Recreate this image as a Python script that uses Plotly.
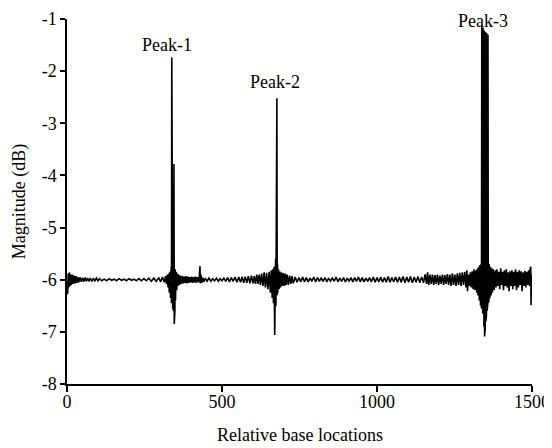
import plotly.graph_objects as go

# Relative base locations (x) and magnitude in dB (y)
base_loc = [
    0, 2, 4, 6, 8, 10, 12, 14, 17, 20, 23, 26, 29, 32, 35, 38, 42, 46, 50, 54, 58, 62, 66, 70, 75, 80, 85, 90, 95, 100,
    105, 112, 120, 128, 136, 144, 152, 160, 168, 176, 184, 192, 200, 208, 216, 224, 232, 240, 248, 256, 264, 272, 280, 288, 296, 302, 308, 314, 318,
    321, 324, 326, 328, 330, 332, 334, 336, 337, 338, 339, 340, 341, 342, 343, 344, 345, 346, 347, 348, 349, 350, 352, 354, 356, 358, 360, 363, 366, 369,
    372, 375, 378, 381, 384, 387, 390, 393, 396, 399, 402, 405, 408, 411, 414, 417, 420, 424, 427, 429, 430, 432, 435, 438, 442,
    446, 452, 458, 464, 470, 476, 482, 488, 494, 500, 506, 512, 518, 524, 530, 536, 542, 548, 554, 560, 565, 570, 575, 580, 585, 590, 595, 600, 604, 608, 612, 616,
    620, 624, 628, 632, 636, 640, 644, 648, 652, 656, 659, 662, 664, 666, 668, 670, 671, 672, 673, 674, 675, 676, 677, 678, 679, 680, 682, 684, 686, 689, 692, 695, 698, 701, 704, 707, 710, 714, 718, 722, 726, 730,
    736, 742, 748, 754, 760, 766, 772, 778, 784, 790, 796, 802, 808, 814, 820, 826, 832, 838, 844, 850, 856, 862, 868, 874, 880, 886, 892, 898, 904, 910, 916, 922, 928, 934, 940, 946, 952, 958, 964, 970, 976, 982, 988, 994,
    1000, 1006, 1012, 1018, 1024, 1030, 1036, 1042, 1048, 1054, 1060, 1066, 1072, 1078, 1084, 1090, 1096, 1102, 1108, 1114, 1120, 1126, 1132, 1138, 1144, 1150,
    1155, 1160, 1163, 1167, 1171, 1175, 1179, 1183, 1187, 1191, 1195, 1199, 1203, 1207, 1211, 1215, 1219, 1223, 1227, 1231, 1235, 1239, 1243, 1247, 1251, 1255, 1259, 1263, 1267, 1271, 1275, 1279, 1283, 1287, 1290, 1292, 1295, 1298, 1301, 1304, 1307, 1310, 1313, 1316, 1319,
    1322, 1324, 1326, 1328, 1330, 1332, 1334, 1336, 1337, 1338, 1339, 1340, 1341, 1342, 1343, 1344, 1345, 1346, 1347, 1348, 1349, 1350, 1351, 1352, 1353, 1354, 1355, 1356, 1357, 1358, 1359, 1360, 1361, 1362, 1364, 1366, 1368, 1370, 1372, 1375, 1378,
    1381, 1384, 1387, 1390, 1393, 1396, 1399, 1402, 1405, 1408, 1411, 1414, 1417, 1420, 1423, 1426, 1429, 1432, 1435, 1438, 1441, 1444, 1447, 1450, 1453, 1456, 1459, 1462, 1465, 1468, 1471, 1474, 1477, 1480, 1483, 1486, 1489, 1492, 1494, 1496, 1497, 1498, 1500,
]

magnitude_db = [
    -6.05, -6.28, -5.88, -6.15, -5.86, -6.12, -5.9, -6.1, -5.9, -6.08, -5.92, -6.07, -5.93, -6.06, -5.95, -6.05, -5.95, -6.04, -5.96, -6.04, -5.96, -6.03, -5.97, -6.03, -5.97, -6.03, -5.98, -6.02, -5.97, -6.02,
    -5.98, -6.02, -5.99, -6.02, -5.98, -6.01, -5.99, -6.02, -5.98, -6.01, -5.99, -6.02, -5.98, -6.01, -5.99, -6.02, -5.98, -6.02, -5.98, -6.02, -5.97, -6.03, -5.97, -6.03, -5.96, -6.04, -5.95, -6.05, -5.93,
    -6.08, -5.9, -6.15, -5.88, -6.25, -5.85, -6.35, -5.75, -6.45, -1.74, -6.5, -5.6, -6.55, -5.7, -6.6, -5.65, -3.78, -6.85, -5.7, -6.6, -5.8, -6.4, -5.85, -6.2, -5.88, -6.12, -5.9, -6.1, -5.92, -6.08,
    -5.93, -6.07, -5.94, -6.06, -5.93, -6.07, -5.94, -6.06, -5.95, -6.05, -5.94, -6.06, -5.95, -6.05, -5.94, -6.06, -5.95, -6.05, -5.92, -5.74, -6.07, -5.9, -6.06, -5.96, -6.04,
    -5.97, -6.03, -5.97, -6.03, -5.98, -6.02, -5.97, -6.03, -5.98, -6.02, -5.97, -6.03, -5.96, -6.04, -5.96, -6.03, -5.95, -6.05, -5.95, -6.05, -5.94, -6.06, -5.94, -6.06, -5.93, -6.07, -5.92, -6.07, -5.93, -6.08, -5.9, -6.08,
    -5.9, -6.1, -5.88, -6.12, -5.86, -6.15, -5.87, -6.18, -5.85, -6.25, -5.82, -6.35, -5.8, -6.45, -5.75, -7.06, -5.7, -6.55, -5.6, -6.5, -3.95, -6.45, -2.52, -6.3, -5.7, -6.25, -5.8, -6.18, -5.84, -6.15, -5.86, -6.12, -5.87, -6.12, -5.88, -6.1, -5.9, -6.1, -5.92, -6.08, -5.93, -6.07,
    -5.95, -6.05, -5.96, -6.04, -5.95, -6.04, -5.96, -6.04, -5.97, -6.03, -5.95, -6.04, -5.96, -6.03, -5.97, -6.03, -5.96, -6.04, -5.97, -6.03, -5.97, -6.03, -5.95, -6.04, -5.97, -6.03, -5.96, -6.04, -5.97, -6.03, -5.96, -6.04, -5.96, -6.03, -5.95, -6.04, -5.96, -6.04, -5.97, -6.03, -5.96, -6.04, -5.95, -6.05,
    -5.96, -6.04, -5.95, -6.05, -5.96, -6.05, -5.94, -6.05, -5.96, -6.04, -5.95, -6.05, -5.95, -6.05, -5.94, -6.06, -5.95, -6.05, -5.94, -6.06, -5.95, -6.05, -5.94, -6.06, -5.95, -6.06,
    -5.9, -6.08, -5.86, -6.1, -5.9, -6.08, -5.9, -6.1, -5.91, -6.08, -5.9, -6.1, -5.92, -6.08, -5.9, -6.1, -5.91, -6.08, -5.89, -6.1, -5.9, -6.12, -5.88, -6.1, -5.9, -6.12, -5.88, -6.1, -5.87, -6.12, -5.86, -6.1, -5.85, -6.15, -5.82, -6.22, -5.9, -6.12, -5.86, -6.15, -5.84, -6.18, -5.8, -6.2, -5.82,
    -6.25, -5.78, -6.3, -5.75, -6.4, -5.72, -6.5, -5.7, -6.55, -1.12, -6.6, -1.15, -6.65, -1.17, -6.75, -1.2, -6.9, -1.22, -7.09, -1.24, -6.95, -1.25, -6.8, -1.26, -6.7, -1.27, -6.6, -1.28, -6.5, -1.3, -6.45, -1.35, -6.4, -5.7, -6.35, -5.75, -6.3, -5.78, -6.25, -5.8, -6.2,
    -5.82, -6.15, -5.8, -6.12, -5.85, -6.18, -5.78, -6.1, -5.85, -6.2, -5.82, -6.12, -5.8, -6.15, -5.86, -6.22, -5.84, -6.12, -5.82, -6.18, -5.85, -6.12, -5.8, -6.2, -5.85, -6.15, -5.82, -6.1, -5.84, -6.22, -5.86, -6.12, -5.83, -6.15, -5.85, -6.1, -5.82, -6.12, -5.8, -5.75, -6.49, -5.9, -6.0,
]

peak_labels = ["Peak-1", "Peak-2", "Peak-3"]
peak_label_x = [321, 671, 1341]
peak_label_y = [-1.5, -2.2, -1.03]

x_ticks = [0, 500, 1000, 1500]
y_ticks = [-8, -7, -6, -5, -4, -3, -2, -1]
Y_MIN, Y_MAX = -8, -1

FONT = "Liberation Serif, Times New Roman, serif"

fig = go.Figure()
fig.add_trace(go.Scatter(
    x=base_loc, y=magnitude_db, mode="lines",
    line=dict(color="black", width=1.6), showlegend=False, hoverinfo="skip",
))

for lab, lx, ly in zip(peak_labels, peak_label_x, peak_label_y):
    fig.add_annotation(x=lx, xref="x", y=(ly - Y_MIN) / (Y_MAX - Y_MIN), yref="paper",
                       xanchor="center", yanchor="middle", borderpad=0,
                       text=lab, showarrow=False,
                       font=dict(family=FONT, size=18, color="black"))

# x-axis title placed below the tick labels
fig.add_annotation(x=0.5, xref="paper", y=-0.14, yref="paper",
                   xanchor="center", yanchor="middle", borderpad=0,
                   text="Relative base locations", showarrow=False,
                   font=dict(family=FONT, size=18, color="black"))

# page body has an 8px margin, so the figure is offset by 8px
fig.update_layout(
    width=544, height=440,
    margin=dict(l=59, r=20, t=11, b=64),
    paper_bgcolor="white", plot_bgcolor="white",
    font=dict(family=FONT, size=18, color="black"),
)
fig.update_xaxes(
    range=[0, 1500], tickvals=x_ticks, ticktext=[str(v) for v in x_ticks],
    showgrid=False, zeroline=False, showline=True, linecolor="black", linewidth=1.5,
    ticks="outside", ticklen=6, tickwidth=1.5, tickcolor="black", automargin=False,
    ticklabeloverflow="allow", ticklabelstandoff=-5,
)
fig.update_yaxes(
    range=[Y_MIN, Y_MAX], tickvals=y_ticks, ticktext=[str(v) for v in y_ticks],
    showgrid=False, zeroline=False, showline=True, linecolor="black", linewidth=1.5,
    ticks="outside", ticklen=5, tickwidth=1.5, tickcolor="black", automargin=False,
    ticklabeloverflow="allow",
    title=dict(text="Magnitude (dB)", font=dict(family=FONT, size=18), standoff=11),
)

fig.write_html("out.html")
